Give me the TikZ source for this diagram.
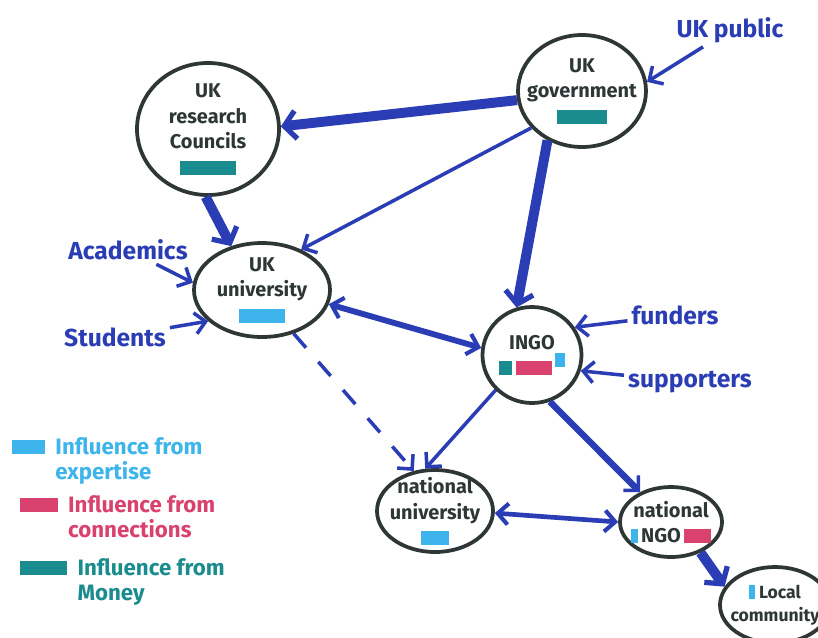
\documentclass[tikz,border=0pt]{standalone}
\usepackage{fontspec}
\setsansfont{Fira Sans}
\usetikzlibrary{shapes.geometric,arrows.meta}
\definecolor{penblue}{HTML}{2A3DB4}
\definecolor{ink}{HTML}{2E3636}
\definecolor{expert}{HTML}{3DB5EC}
\definecolor{conn}{HTML}{D9416F}
\definecolor{money}{HTML}{1B8C8E}
\newcommand\swatch[2]{\textcolor{#1}{\rule{#2}{12pt}}}

\begin{document}
\begin{tikzpicture}[x=0.03cm,y=-0.03cm,font=\sffamily\bfseries,
    actor/.style={ellipse,draw=ink,line width=3.2pt,text=ink,align=center,inner sep=-12pt,
        font=\sffamily\bfseries\fontsize{17}{22}\selectfont},
    outsider/.style={text=penblue,font=\sffamily\bfseries\fontsize{21}{23}\selectfont},
    key/.style={anchor=north west,font=\sffamily\bfseries\fontsize{19}{22}\selectfont},
    link/.style={draw=penblue,line width=3pt,-{Straight Barb[length=9pt,width=18pt,line width=3pt]}},
    twoway/.style={link,line width=5pt,{Straight Barb[length=9pt,width=18pt,line width=3.5pt]}-{Straight Barb[length=9pt,width=18pt,line width=3.5pt]}},
    heavy/.style={link,line width=8.5pt,-{Straight Barb[length=10pt,width=24pt,line width=4.5pt]}}]
    \clip (0,0) rectangle (818,637);
    \fill [white] (0,0) rectangle (818,637);

    % actors
    \node [actor,minimum width=4.26cm,minimum height=3.96cm] (Councils) at (208,129)
        {UK\\research\\Councils\\\swatch{money}{48pt}};
    \node [actor,minimum width=3.84cm,minimum height=3.36cm] (Gov) at (582,91)
        {UK\\government\\\swatch{money}{42pt}};
    \node [actor,minimum width=4.08cm,minimum height=2.82cm] (Univ) at (262,290)
        {UK\\university\\\swatch{expert}{40pt}};
    \node [actor,minimum width=2.97cm,minimum height=2.88cm] (INGO) at (532,355)
        {INGO\\\swatch{money}{11pt}\,\swatch{conn}{31pt}\,\raisebox{7pt}{\swatch{expert}{8pt}}};
    \node [actor,minimum width=3.48cm,minimum height=2.46cm] (NatUniv) at (435,511)
        {national\\university\\\swatch{expert}{24pt}};
    \node [actor,minimum width=3.06cm,minimum height=2.1cm] (NatNGO) at (671,522)
        {national\\\swatch{expert}{6pt}\,NGO\,\swatch{conn}{23pt}};
    \node [actor,minimum width=3.3cm,minimum height=2.28cm,font=\sffamily\bfseries\fontsize{15}{19}\selectfont] (Local) at (775,605)
        {\swatch{expert}{5pt}\ Local\\community};

    % outside groups
    \node [outsider] (Public) at (730,30) {UK public};
    \node [outsider] (Academics) at (128,250) {Academics};
    \node [outsider] (Students) at (115,337) {Students};
    \node [outsider] (Funders) at (675,315) {funders};
    \node [outsider] (Supporters) at (690,382) {supporters};

    % flows of influence
    \draw [heavy] (Gov.188) -- (Councils.2);
    \draw [link] (Gov.216) -- (Univ.46);
    \draw [heavy] (Gov.235) -- (INGO.108);
    \draw [heavy] (Councils.268) -- (Univ.125);
    \draw [twoway] (Univ.348) -- (INGO.172);
    \draw [link,dash pattern=on 16pt off 16pt] (Univ.306) -- (NatUniv.118);
    \draw [link] (INGO.224) -- (NatUniv.103);
    \draw [link,line width=5.5pt] (INGO.291) -- (NatNGO.136);
    \draw [twoway,line width=4pt] (NatUniv.358) -- (NatNGO.180);
    \draw [heavy] (NatNGO.314) -- (Local.160);
    \draw [link] (Public) -- (Gov.8);
    \draw [link] (Academics) -- (Univ.174);
    \draw [link] (Students) -- (Univ.210);
    \draw [link] (Funders) -- (INGO.33);
    \draw [link] (Supporters) -- (INGO.342);

    % legend
    \node [key,text=expert] (Expertise) at (8,432)
        {\begin{tabular}{@{}l@{\ \ }l}\swatch{expert}{28pt} & Influence from\\ & expertise\end{tabular}};
    \node [key,text=conn] (Connections) at (16,490)
        {\begin{tabular}{@{}l@{\ \ }l}\swatch{conn}{32pt} & Influence from\\ & connections\end{tabular}};
    \node [key,text=money] (Money) at (16,553)
        {\begin{tabular}{@{}l@{\ \ }l}\swatch{money}{40pt} & Influence from\\ & Money\end{tabular}};
\end{tikzpicture}
\end{document}
